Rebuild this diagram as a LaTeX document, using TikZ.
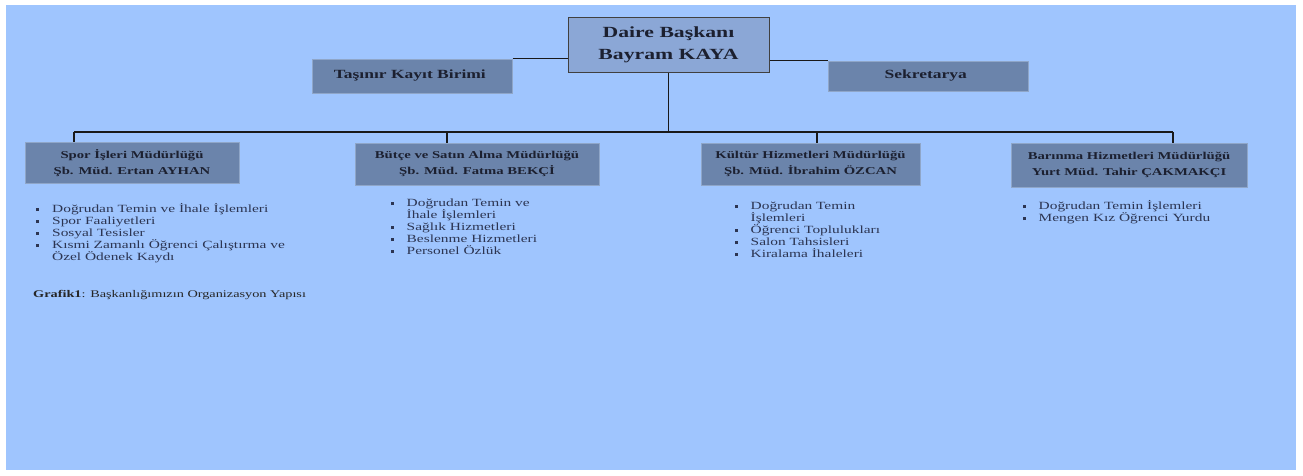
\documentclass[tikz,border=0pt]{standalone}
\usepackage{fontspec}
\newfontfamily\orgfont{Liberation Serif}[FakeStretch=1.4]
\usetikzlibrary{positioning}

\definecolor{bgblue}{HTML}{9FC5FE}
\definecolor{topfill}{HTML}{8BA7D6}
\definecolor{unitfill}{HTML}{6B84AB}
\definecolor{unitedge}{HTML}{8FA6C8}
\definecolor{headtext}{HTML}{1C2030}
\definecolor{listtext}{HTML}{2C3552}

\newcommand{\blt}{\makebox[16pt][l]{\raisebox{1.5pt}{\rule{3pt}{3pt}}}}
\newcommand{\listind}{\hspace*{16pt}}

\begin{document}
\begin{tikzpicture}[x=1pt, y=-1pt]
\tikzstyle{unit}=[rectangle, draw=unitedge, line width=1pt, fill=unitfill, text=headtext,
        align=center, inner sep=0pt, font=\orgfont\bfseries\fontsize{10.5}{16}\selectfont]
\tikzstyle{head}=[unit, draw=black!75, fill=topfill, font=\orgfont\bfseries\fontsize{15.5}{22}\selectfont]
\tikzstyle{staff}=[unit, font=\orgfont\bfseries\fontsize{12.5}{15}\selectfont]
\tikzstyle{duties}=[align=left, anchor=base west, inner sep=0pt, text=listtext,
        font=\orgfont\fontsize{11}{12}\selectfont]
\tikzstyle{line}=[-, line width=1.6pt, draw=black!90]

\def \bus {132}
\def \ls {12}

    % background
    \fill[bgblue] (6,5) rectangle (1296,470);
    \useasboundingbox (0,0) rectangle (1303,475);

    \node (chief) [head, minimum width=201pt, minimum height=55pt] at (668.5,44.5){
            Daire Başkanı\\
            Bayram KAYA
    };

    \node (tasinir) [staff, minimum width=200pt, minimum height=34pt] at (412,76){
            Taşınır Kayıt Birimi
    };

    \node (sekr) [staff, minimum width=200pt, minimum height=30pt] at (928,76){
            Sekretarya
    };

    \node (spor) [unit, minimum width=214pt, minimum height=41pt] at (132,163){
            Spor İşleri Müdürlüğü\\
            Şb. Müd. Ertan AYHAN
    };

    \node (butce) [unit, minimum width=244pt, minimum height=42pt] at (477,164){
            Bütçe ve Satın Alma Müdürlüğü\\
            Şb. Müd. Fatma BEKÇİ
    };

    \node (kultur) [unit, minimum width=219pt, minimum height=42pt] at (810.5,164){
            Kültür Hizmetleri Müdürlüğü\\
            Şb. Müd. İbrahim ÖZCAN
    };

    \node (barinma) [unit, minimum width=236pt, minimum height=44pt] at (1129,165){
            Barınma Hizmetleri Müdürlüğü\\
            Yurt Müd. Tahir ÇAKMAKÇI
    };

    % duty lists (placed by the baseline of their last line)
    \node (sporlist) [duties] at (36,212.5+4*\ls){
            \blt Doğrudan Temin ve İhale İşlemleri\\
            \blt Spor Faaliyetleri\\
            \blt Sosyal Tesisler\\
            \blt Kısmi Zamanlı Öğrenci Çalıştırma ve\\
            \listind Özel Ödenek Kaydı
    };

    \node (butcelist) [duties] at (390.5,206.5+4*\ls){
            \blt Doğrudan Temin ve\\
            \listind İhale İşlemleri\\
            \blt Sağlık Hizmetleri\\
            \blt Beslenme Hizmetleri\\
            \blt Personel Özlük
    };

    \node (kulturlist) [duties] at (734.5,209.5+4*\ls){
            \blt Doğrudan Temin\\
            \listind İşlemleri\\
            \blt Öğrenci Toplulukları\\
            \blt Salon Tahsisleri\\
            \blt Kiralama İhaleleri
    };

    \node (barinmalist) [duties] at (1022.5,209.5+\ls){
            \blt Doğrudan Temin İşlemleri\\
            \blt Mengen Kız Öğrenci Yurdu
    };

    \node (caption) [anchor=base west, inner sep=0pt, text=black!85,
            font=\orgfont\fontsize{10.2}{12}\selectfont] at (33,297){
            \textbf{Grafik1}: Başkanlığımızın Organizasyon Yapısı
    };

\coordinate (hub) at (668.5,\bus);
\coordinate (d1) at (74,\bus);
\coordinate (d2) at (447,\bus);
\coordinate (d3) at (817,\bus);
\coordinate (d4) at (1173,\bus);

\draw[line] (tasinir.north east) -- (tasinir.north east -| chief.west);
\draw[line] (sekr.north west) -- (sekr.north west -| chief.east);
\draw[line] (chief.south) -- (hub);
\draw[line] (d1) -- (d4);
\draw[line] (d1) -- (d1 |- spor.north);
\draw[line] (d2) -- (d2 |- butce.north);
\draw[line] (d3) -- (d3 |- kultur.north);
\draw[line] (d4) -- (d4 |- barinma.north);

\end{tikzpicture}
\end{document}
